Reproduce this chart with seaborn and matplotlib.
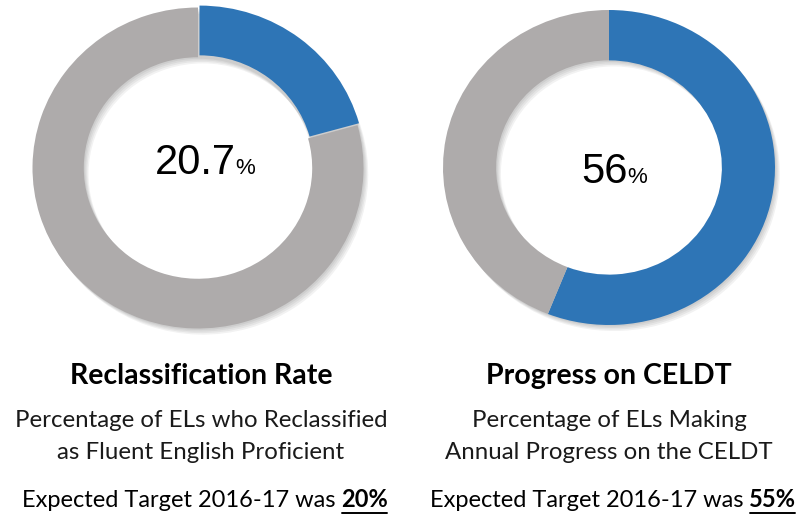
import matplotlib
matplotlib.use("Agg")
import matplotlib.pyplot as plt
from matplotlib.lines import Line2D
import seaborn as sns

sns.set_theme(style="white")
plt.rcParams['font.family'] = ['Lato', 'DejaVu Sans']

# ---- data ----
metrics = ["Reclassification Rate", "Progress on CELDT"]
values = [20.7, 56.0]
value_labels = ["20.7", "56"]
subtitles = [["Percentage of ELs who Reclassified", "as Fluent English Proficient"],
             ["Percentage of ELs Making", "Annual Progress on the CELDT"]]
targets = ["20%", "55%"]
target_prefix = "Expected Target 2016-17 was "

BLUE = "#2E75B6"
GRAY = "#AEABAB"

W, H = 809, 517
fig = plt.figure(figsize=(W / 100, H / 100), dpi=100)
fig.patch.set_facecolor("white")

# donut geometry (pixels): cx, cy, rx, ry, ring width fraction, explode
geoms = [(198, 168, 165.5, 160.5, 0.31, 0.015),
         (609, 167.5, 166, 157.5, 0.32, 0.0)]

for val, (cx, cy, rx, ry, wfrac, expl) in zip(values, geoms):
    pad = 1.1
    ax = fig.add_axes([(cx - rx * pad) / W, 1 - (cy + ry * pad) / H,
                       2 * rx * pad / W, 2 * ry * pad / H])
    ax.set_facecolor("none")
    # soft shadow layers
    for k in range(4):
        off = 0.006 * (k + 1)
        ax.pie([val, 100 - val], startangle=90, counterclock=False,
               colors=["#000000", "#000000"], radius=1.0,
               center=(off * 1.2, -off * 1.6),
               wedgeprops=dict(width=wfrac, edgecolor="none", alpha=0.05))
    ax.pie([val, 100 - val], startangle=90, counterclock=False,
           colors=[BLUE, GRAY], radius=1.0, explode=[expl, 0],
           wedgeprops=dict(width=wfrac, edgecolor="none"))
    ax.set_xlim(-pad, pad)
    ax.set_ylim(-pad, pad)
    ax.set_aspect("auto")
    ax.axis("off")

renderer = fig.canvas.get_renderer()


def place_runs(xc, yb, parts):
    """Place text runs (str, props) centred at pixel xc with baseline yb (image coords)."""
    texts = []
    for s, props in parts:
        t = fig.text(0, 1 - yb / H, s, va="baseline", ha="left", **props)
        texts.append(t)
    widths = [t.get_window_extent(renderer).width for t in texts]
    total = sum(widths)
    x = xc - total / 2
    for t, w in zip(texts, widths):
        t.set_x(x / W)
        x += w
    return texts


# centre values
num_props = dict(family=["Liberation Sans", "DejaVu Sans"], color="black")
place_runs(205, 174, [(value_labels[0], dict(fontsize=30, **num_props)),
                      ("%", dict(fontsize=16, **num_props))])
place_runs(614, 183, [(value_labels[1], dict(fontsize=30, **num_props)),
                      ("%", dict(fontsize=16, **num_props))])

col_x = [201, 609]
for i in range(2):
    xc = col_x[i]
    place_runs(xc, 384, [(metrics[i], dict(fontsize=20.5, fontweight="bold", color="black"))])
    place_runs(xc, 427, [(subtitles[i][0], dict(fontsize=17.3, color="#1a1a1a"))])
    place_runs(xc, 459, [(subtitles[i][1], dict(fontsize=17.3, color="#1a1a1a"))])
    ts = place_runs(xc + 4, 507, [(target_prefix, dict(fontsize=17, color="black")),
                                  (targets[i], dict(fontsize=17, fontweight="bold", color="black"))])
    bb = ts[1].get_window_extent(renderer)
    yline = 1 - 512.5 / H
    fig.add_artist(Line2D([bb.x0 / W + 1 / W, bb.x1 / W - 1 / W], [yline, yline],
                          transform=fig.transFigure, color="black", linewidth=1.4))

fig.savefig("out.png", dpi=100, facecolor="white")
